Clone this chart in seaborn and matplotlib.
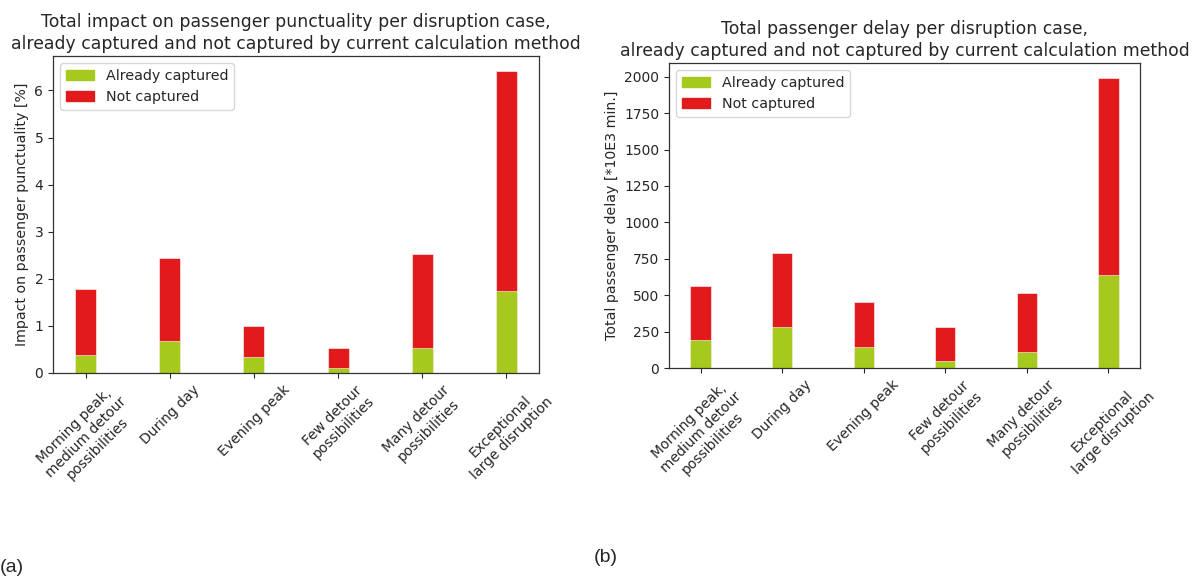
import matplotlib
matplotlib.use("Agg")
import matplotlib.pyplot as plt
from matplotlib.patches import Patch
import pandas as pd
import seaborn as sns

cases = [
    "Morning peak,\nmedium detour\npossibilities",
    "During day",
    "Evening peak",
    "Few detour\npossibilities",
    "Many detour\npossibilities",
    "Exceptional\nlarge disruption",
]

# (a) impact on passenger punctuality [%]
punct_captured = [0.38, 0.69, 0.35, 0.10, 0.54, 1.74]
punct_total = [1.78, 2.45, 1.00, 0.54, 2.52, 6.41]

# (b) total passenger delay [*10E3 min.]
delay_captured = [195, 282, 147, 50, 110, 638]
delay_total = [562, 791, 454, 282, 514, 1995]

GREEN = "#a6c91d"
RED = "#e31a1c"

sns.set_style("ticks")
plt.rcParams["font.family"] = ["DejaVu Sans"]
plt.rcParams["axes.edgecolor"] = "#333333"
plt.rcParams["text.color"] = "#262626"

W, H = 1192, 579
fig = plt.figure(figsize=(W / 100, H / 100), dpi=100)


def px_axes(x0, y0, x1, y1):
    return fig.add_axes([x0 / W, 1 - y1 / H, (x1 - x0) / W, (y1 - y0) / H])


def stacked(ax, captured, total, title, ylabel):
    df = pd.DataFrame({"case": cases, "captured": captured, "total": total})
    sns.barplot(data=df, x="case", y="total", color=RED, width=0.25,
                saturation=1, edgecolor="white", linewidth=0.4, ax=ax)
    sns.barplot(data=df, x="case", y="captured", color=GREEN, width=0.25,
                saturation=1, edgecolor="white", linewidth=0.4, ax=ax)
    ax.set_xlim(-0.3875, len(cases) - 1 + 0.3875)
    ax.set_ylim(0, max(total) * 1.05)
    ax.set_xlabel("")
    ax.set_ylabel(ylabel, fontsize=10.2)
    ax.set_title(title, fontsize=12.4, pad=5, linespacing=1.3)
    ax.tick_params(axis="x", labelrotation=45, labelsize=10)
    ax.tick_params(axis="y", labelsize=10)
    for lbl in ax.get_xticklabels():
        lbl.set_ha("center")
        lbl.set_multialignment("center")
    for s in ax.spines.values():
        s.set_linewidth(0.9)
    handles = [Patch(color=GREEN, label="Already captured"),
               Patch(color=RED, label="Not captured")]
    ax.legend(handles=handles, loc="upper left", fontsize=10.3,
              frameon=True, framealpha=0.8, edgecolor="#cccccc", fancybox=True)


ax1 = px_axes(53, 56, 539, 373)
stacked(ax1, punct_captured, punct_total,
        "Total impact on passenger punctuality per disruption case,\n"
        "already captured and not captured by current calculation method",
        "Impact on passenger punctuality [%]")

ax2 = px_axes(669, 63, 1140, 368)
stacked(ax2, delay_captured, delay_total,
        "Total passenger delay per disruption case,\n"
        "already captured and not captured by current calculation method",
        "Total passenger delay [*10E3 min.]")
ax2.set_yticks([0, 250, 500, 750, 1000, 1250, 1500, 1750, 2000])

fig.text(0 / W, 1 - 567 / H, "(a)", fontsize=14, family="Liberation Sans",
         ha="left", va="center")
fig.text(594 / W, 1 - 557 / H, "(b)", fontsize=14, family="Liberation Sans",
         ha="left", va="center")

fig.savefig("out.png", dpi=100, facecolor="white")
